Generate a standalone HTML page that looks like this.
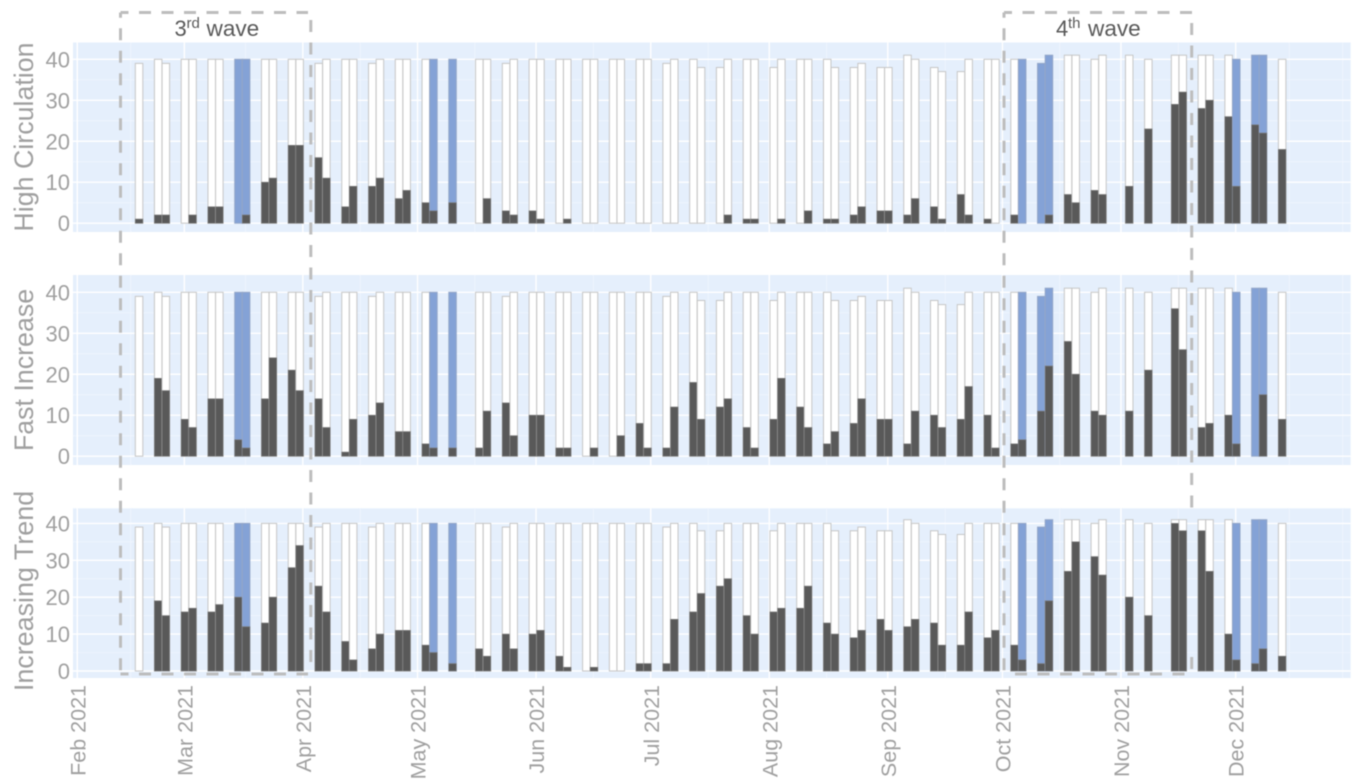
<!DOCTYPE html>
<html lang="en">
<head>
<meta charset="utf-8">
<title>Wave indicators chart</title>
<style>
html,body{margin:0;padding:0;background:#fff;}
body{width:1360px;height:784px;overflow:hidden;}
svg{display:block;font-family:"Liberation Sans",sans-serif;filter:blur(0.45px);}
</style>
</head>
<body>
<svg id="chart" xmlns="http://www.w3.org/2000/svg" width="1360" height="784" viewBox="0 0 1360 784">
  <g id="panels"></g>
  <g id="waves">
    <g fill="none" stroke="#bdbdbd" stroke-width="3" stroke-dasharray="12 10.5">
      <path d="M120.5 12.5H308" stroke-dashoffset="4"/>
      <path d="M120.5 12.5V674" stroke-dashoffset="6.7"/>
      <path d="M120.5 674H308" stroke-dashoffset="4"/>
      <path d="M310.8 20V667"/>
    </g>
    <g fill="none" stroke="#bdbdbd" stroke-width="3" stroke-dasharray="12 10.5">
      <path d="M1004 12.5H1192" stroke-dashoffset="4"/>
      <path d="M1004 12.5V675" stroke-dashoffset="6.7"/>
      <path d="M1015 674H1187"/>
      <path d="M1191.7 23V511"/>
      <path d="M1191.7 657V670"/>
    </g>
    <text y="36" font-size="22" fill="#595959"><tspan x="174.5">3</tspan><tspan x="186.5" dy="-8" font-size="15">rd</tspan><tspan x="206.5" dy="8" font-size="22.6">wave</tspan></text>
    <text y="36" font-size="22" fill="#595959"><tspan x="1056">4</tspan><tspan x="1068" dy="-8" font-size="15">th</tspan><tspan x="1088" dy="8" font-size="22.6">wave</tspan></text>
  </g>
</svg>
<script>
// Sampling dates (2021, MM-DD)
var sampleDates = ["02-17","02-22","02-24","03-01","03-03","03-08","03-10","03-15","03-17","03-22","03-24","03-29","03-31","04-05","04-07","04-12","04-14","04-19","04-21","04-26","04-28","05-03","05-05","05-10","05-17","05-19","05-24","05-26","05-31","06-02","06-07","06-09","06-14","06-16","06-21","06-23","06-28","06-30","07-05","07-07","07-12","07-14","07-19","07-21","07-26","07-28","08-02","08-04","08-09","08-11","08-16","08-18","08-23","08-25","08-30","09-01","09-06","09-08","09-13","09-15","09-20","09-22","09-27","09-29","10-04","10-06","10-11","10-13","10-18","10-20","10-25","10-27","11-03","11-08","11-15","11-17","11-22","11-24","11-29","12-01","12-06","12-08","12-13"];
// Total outlined height for each date
var totals = [39,40,39,40,40,40,40,40,40,40,40,40,40,39,40,40,40,39,40,40,40,40,40,40,40,40,39,40,40,40,40,40,40,40,40,40,40,40,39,40,40,38,38,40,40,40,38,40,40,40,40,38,38,39,38,38,41,40,38,37,37,40,40,40,40,40,39,41,41,41,40,41,41,40,41,41,41,41,41,40,41,41,40];
// Dates drawn in blue instead of white
var blueDates = ["03-15","03-17","05-05","05-10","10-06","10-11","10-13","12-01","12-06","12-08"];
// Dark bar values for each panel
var highCirculation = [1,2,2,0,2,4,4,0,2,10,11,19,19,16,11,4,9,9,11,6,8,5,3,5,0,6,3,2,3,1,0,1,0,0,0,0,0,0,0,0,0,0,0,2,1,1,0,1,0,3,1,1,2,4,3,3,2,6,4,1,7,2,1,0,2,0,0,2,7,5,8,7,9,23,29,32,28,30,26,9,24,22,18];
var fastIncrease = [0,19,16,9,7,14,14,4,2,14,24,21,16,14,7,1,9,10,13,6,6,3,2,2,2,11,13,5,10,10,2,2,0,2,0,5,8,2,2,12,18,9,12,14,7,2,9,19,12,7,3,6,8,14,9,9,3,11,10,7,9,17,10,2,3,4,11,22,28,20,11,10,11,21,36,26,7,8,10,3,0,15,9];
var increasingTrend = [0,19,15,16,17,16,18,20,12,13,20,28,34,23,16,8,3,6,10,11,11,7,5,2,6,4,10,6,10,11,4,1,0,1,0,0,2,2,2,14,16,21,23,25,15,10,16,17,17,23,13,10,9,11,14,11,12,14,13,7,7,16,9,11,7,3,2,19,27,35,31,26,20,15,40,38,38,27,10,3,2,6,4];
// Axis labels
var yTickValues = [0,10,20,30,40];
var yMinorValues = [5,15,25,35];
var monthLabels = ["Feb 2021","Mar 2021","Apr 2021","May 2021","Jun 2021","Jul 2021","Aug 2021","Sep 2021","Oct 2021","Nov 2021","Dec 2021"];
var monthDates = ["02-01","03-01","04-01","05-01","06-01","07-01","08-01","09-01","10-01","11-01","12-01"];
var minorDates = ["02-15","03-17","04-16","05-16","06-16","07-16","08-16","09-16","10-16","11-16","12-15","12-29"];
var panelTitles = ["High Circulation","Fast Increase","Increasing Trend"];

var NS = "http://www.w3.org/2000/svg";
var panelLayer = document.getElementById("panels");
var plotLeft = 73, plotRight = 1350.7, barShift = 0.6;
var panelBoxes = [
  {top:42.5, bottom:232, y0:223.2, y40:59.3, titleY:137, titleSize:26.8, series:highCirculation, key:"high-circulation"},
  {top:275, bottom:465, y0:456.2, y40:292.3, titleY:370, titleSize:26.8, series:fastIncrease, key:"fast-increase"},
  {top:508.3, bottom:678, y0:671, y40:523.4, titleY:591, titleSize:26.9, series:increasingTrend, key:"increasing-trend"}
];

function xScale(md) {
  var p = md.split("-");
  var days = (Date.UTC(2021, +p[0] - 1, +p[1]) - Date.UTC(2021, 1, 1)) / 86400000;
  return 77.3 + days * 3.823;
}
function yScale(box, v) {
  return box.y0 + (box.y40 - box.y0) * v / 40;
}
function make(tag, parent) {
  var el = document.createElementNS(NS, tag);
  parent.appendChild(el);
  return el;
}
function set(el, k, v) { el.setAttribute(k, v); }

function drawLine(parent, x1, y1, x2, y2, w, color) {
  var l = make("line", parent);
  set(l, "x1", x1); set(l, "y1", y1); set(l, "x2", x2); set(l, "y2", y2);
  set(l, "stroke", color); set(l, "stroke-width", w);
  return l;
}

panelBoxes.forEach(function (box, pi) {
  var g = make("g", panelLayer);
  
  

  var bg = make("rect", g);
  
  
  set(bg, "x", plotLeft); set(bg, "y", box.top);
  set(bg, "width", plotRight - plotLeft); set(bg, "height", box.bottom - box.top);
  set(bg, "fill", "#e5effc");

  yMinorValues.forEach(function (v) {
    var l = drawLine(g, plotLeft, yScale(box, v), plotRight, yScale(box, v), 0.7, "#f1f6fe");
    
    
  });
  minorDates.forEach(function (d) {
    var l = drawLine(g, xScale(d), box.top, xScale(d), box.bottom, 0.7, "#f1f6fe");
    
    
  });
  yTickValues.forEach(function (v) {
    var l = drawLine(g, plotLeft, yScale(box, v), plotRight, yScale(box, v), 1.4, "#ffffff");
    
    
  });
  monthDates.forEach(function (d) {
    var l = drawLine(g, xScale(d), box.top, xScale(d), box.bottom, 1.4, "#ffffff");
    
    
  });

  yTickValues.forEach(function (v) {
    var t = make("text", g);
    
    
    set(t, "x", 70); set(t, "y", yScale(box, v) + 8);
    set(t, "text-anchor", "end"); set(t, "font-size", "22");
    set(t, "fill", "#a0a0a0");
    t.textContent = v;
  });

  var title = make("text", g);
  
  
  set(title, "transform", "translate(33 " + box.titleY + ") rotate(-90)");
  set(title, "text-anchor", "middle"); set(title, "font-size", box.titleSize);
  set(title, "fill", "#a0a0a0");
  title.textContent = panelTitles[pi];

  sampleDates.forEach(function (d, i) {
    var cx = xScale(d) + barShift, w = 7.5;
    var isBlue = blueDates.indexOf(d) >= 0;
    var outer = make("rect", g);
    
    
    set(outer, "x", cx - w / 2); set(outer, "width", w);
    set(outer, "y", yScale(box, totals[i]));
    set(outer, "height", box.y0 - yScale(box, totals[i]));
    set(outer, "fill", isBlue ? "#84a2d6" : "#ffffff");
    set(outer, "stroke", isBlue ? "#93a6c8" : "#c6c6c6");
    set(outer, "stroke-width", "1");

    var v = box.series[i];
    if (v > 0) {
      var bar = make("rect", g);
      
      
      set(bar, "x", cx - w / 2); set(bar, "width", w);
      set(bar, "y", yScale(box, v));
      set(bar, "height", box.y0 - yScale(box, v));
      set(bar, "fill", "#595959");
      set(bar, "stroke", "#7a7a7a");
      set(bar, "stroke-width", "0.7");
    }
  });
});

monthLabels.forEach(function (label, i) {
  var t = make("text", panelLayer);
  
  
  set(t, "transform", "translate(" + (xScale(monthDates[i]) + 8) + " 685) rotate(-90)");
  set(t, "text-anchor", "end"); set(t, "font-size", "21.5");
  set(t, "fill", "#a0a0a0");
  t.textContent = label;
});
</script>
</body>
</html>
